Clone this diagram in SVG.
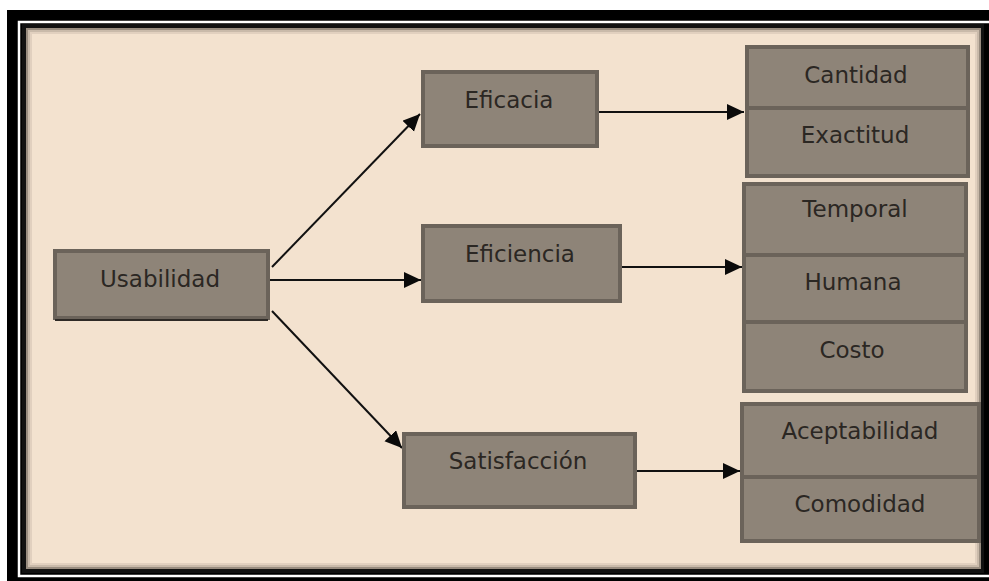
<svg xmlns="http://www.w3.org/2000/svg" width="989" height="581" viewBox="0 0 989 581">
<defs>
<style>
.box{fill:#8e8478;stroke:#6b635a;stroke-width:4}
.lbl{font-family:"DejaVu Sans",Verdana,sans-serif;font-size:23px;fill:#2b2723;text-anchor:middle}
.con{stroke:#111;stroke-width:2;fill:none;marker-end:url(#ah)}
</style>
<marker id="ah" markerUnits="userSpaceOnUse" markerWidth="20" markerHeight="18" refX="17" refY="8" orient="auto">
<path d="M0,0 L17,8 L0,16 z" fill="#0a0a0a"/>
</marker>
</defs>
<rect x="0" y="0" width="989" height="581" fill="#fff"/>
<rect x="7" y="10" width="982" height="571" fill="#000"/>
<rect x="19" y="22" width="980" height="554" fill="none" stroke="#fff" stroke-width="2.5"/>
<rect x="22" y="24" width="962" height="549" fill="#111"/>
<rect x="26" y="28" width="955" height="541" fill="#f3e2cf"/>
<rect x="27" y="29" width="953" height="539" fill="none" stroke="#5c534a" stroke-opacity="0.6" stroke-width="2"/>
<rect x="29" y="31" width="949" height="535" fill="none" stroke="#7a6f64" stroke-opacity="0.35" stroke-width="2"/>
<rect x="31" y="33" width="945" height="531" fill="none" stroke="#9a8e80" stroke-opacity="0.2" stroke-width="2"/>

<g id="connectors">
<line class="con" x1="272" y1="267" x2="420" y2="114"/>
<line class="con" x1="270" y1="280" x2="421" y2="280"/>
<line class="con" x1="272" y1="311" x2="402" y2="448"/>
<line class="con" x1="599" y1="112" x2="744" y2="112"/>
<line class="con" x1="622" y1="267" x2="742" y2="267"/>
<line class="con" x1="637" y1="471" x2="740" y2="471"/>
</g>

<g id="usabilidad">
<rect class="box" x="55" y="251" width="213" height="67"/>
<line x1="55" y1="320" x2="268" y2="320" stroke="#2e2a26" stroke-width="2"/>
<text class="lbl" x="160" y="287">Usabilidad</text>
</g>
<g id="eficacia">
<rect class="box" x="423" y="72" width="174" height="74"/>
<text class="lbl" x="509" y="108">Eficacia</text>
</g>
<g id="eficiencia">
<rect class="box" x="423" y="226" width="197" height="75"/>
<text class="lbl" x="520" y="262">Eficiencia</text>
</g>
<g id="satisfaccion">
<rect class="box" x="404" y="434" width="231" height="73"/>
<text class="lbl" x="518" y="469">Satisfacción</text>
</g>

<g id="cantidad">
<rect class="box" x="747" y="47" width="221" height="61"/>
<text class="lbl" x="856" y="83">Cantidad</text>
</g>
<g id="exactitud">
<rect class="box" x="747" y="108" width="221" height="68"/>
<text class="lbl" x="855" y="143">Exactitud</text>
</g>
<g id="temporal">
<rect class="box" x="744" y="184" width="222" height="71"/>
<text class="lbl" x="855" y="217">Temporal</text>
</g>
<g id="humana">
<rect class="box" x="744" y="255" width="222" height="67"/>
<text class="lbl" x="853" y="290">Humana</text>
</g>
<g id="costo">
<rect class="box" x="744" y="322" width="222" height="69"/>
<text class="lbl" x="852" y="358">Costo</text>
</g>
<g id="aceptabilidad">
<rect class="box" x="742" y="404" width="237" height="73"/>
<text class="lbl" x="860" y="439">Aceptabilidad</text>
</g>
<g id="comodidad">
<rect class="box" x="742" y="477" width="237" height="64"/>
<text class="lbl" x="860" y="512">Comodidad</text>
</g>
</svg>
